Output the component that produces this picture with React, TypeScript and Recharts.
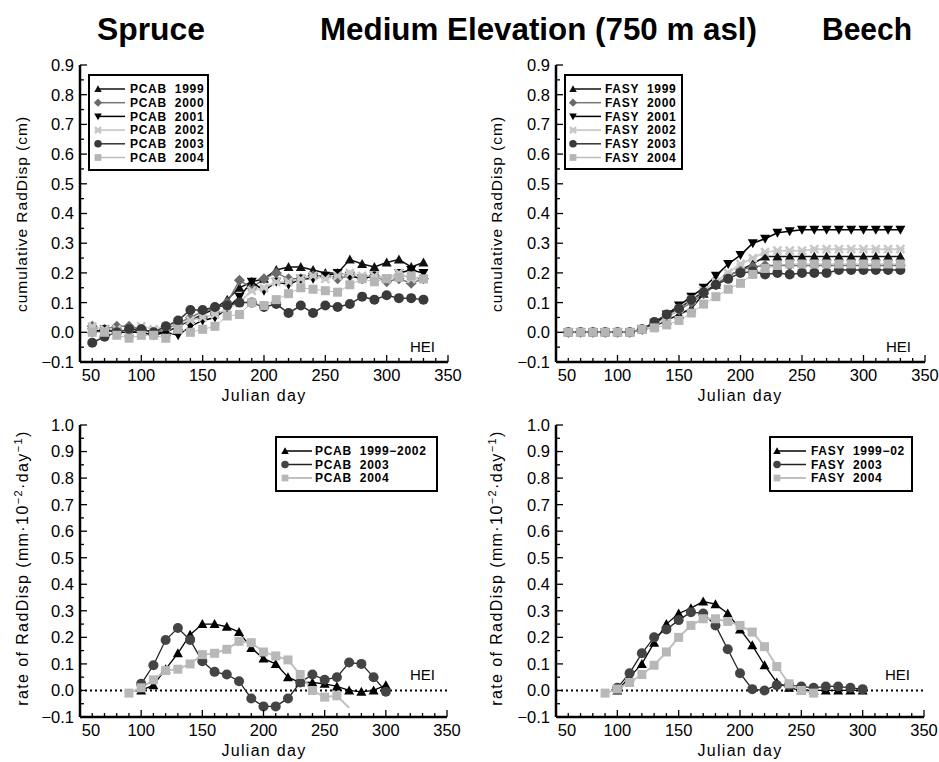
import { LineChart, Line, XAxis, YAxis, ReferenceLine } from 'recharts'

// ---- axes ----
const X_MAJOR = [50, 100, 150, 200, 250, 300, 350]
const X_TICKS = [
  50, 60, 70, 80, 90, 100, 110, 120, 130, 140, 150, 160, 170, 180, 190, 200, 210, 220, 230, 240, 250,
  260, 270, 280, 290, 300, 310, 320, 330, 340, 350,
]
const CUM_Y_MAJOR = [-0.1, 0, 0.1, 0.2, 0.3, 0.4, 0.5, 0.6, 0.7, 0.8, 0.9]
const CUM_Y_TICKS = [
  -0.1, -0.05, 0, 0.05, 0.1, 0.15, 0.2, 0.25, 0.3, 0.35, 0.4, 0.45, 0.5, 0.55, 0.6, 0.65, 0.7, 0.75, 0.8,
  0.85, 0.9,
]
const RATE_Y_MAJOR = [-0.1, 0, 0.1, 0.2, 0.3, 0.4, 0.5, 0.6, 0.7, 0.8, 0.9, 1.0]
const RATE_Y_TICKS = [
  -0.1, -0.05, 0, 0.05, 0.1, 0.15, 0.2, 0.25, 0.3, 0.35, 0.4, 0.45, 0.5, 0.55, 0.6, 0.65, 0.7, 0.75, 0.8,
  0.85, 0.9, 0.95, 1.0,
]

// ---- cumulative radial displacement (cm), 10-day steps ----
const CUM_DAYS = [
  60, 70, 80, 90, 100, 110, 120, 130, 140, 150, 160, 170, 180, 190, 200, 210, 220, 230, 240, 250, 260, 270,
  280, 290, 300, 310, 320, 330,
]
const PCAB_1999 = [0.01, 0.0, 0.01, 0.0, 0.01, 0.0, 0.0, 0.02, 0.04, 0.06, 0.08, 0.11, 0.15, 0.17, 0.18, 0.21, 0.22, 0.22, 0.21, 0.2, 0.2, 0.245, 0.23, 0.22, 0.235, 0.245, 0.22, 0.235]
const PCAB_2000 = [0.02, 0.01, 0.02, 0.02, 0.01, 0.0, 0.01, 0.03, 0.05, 0.07, 0.08, 0.1, 0.175, 0.15, 0.18, 0.2, 0.18, 0.18, 0.19, 0.19, 0.18, 0.19, 0.18, 0.19, 0.17, 0.18, 0.165, 0.18]
const PCAB_2001 = [0.0, 0.01, 0.0, 0.0, 0.0, -0.01, 0.0, -0.01, 0.02, 0.04, 0.05, 0.08, 0.12, 0.17, 0.14, 0.17, 0.16, 0.18, 0.18, 0.19, 0.2, 0.19, 0.18, 0.19, 0.18, 0.2, 0.21, 0.2]
const PCAB_2002 = [0.02, 0.01, 0.01, 0.0, 0.02, 0.01, 0.02, 0.03, 0.04, 0.05, 0.06, 0.08, 0.1, 0.14, 0.15, 0.17, 0.17, 0.18, 0.19, 0.18, 0.19, 0.2, 0.19, 0.19, 0.18, 0.2, 0.18, 0.18]
const PCAB_2003 = [-0.035, -0.015, 0.0, 0.01, 0.01, 0.0, 0.02, 0.04, 0.075, 0.075, 0.085, 0.09, 0.1, 0.1, 0.085, 0.095, 0.065, 0.09, 0.065, 0.09, 0.085, 0.095, 0.12, 0.11, 0.125, 0.115, 0.115, 0.11]
const PCAB_2004 = [0.0, 0.0, -0.01, -0.02, -0.01, -0.01, -0.02, 0.01, 0.0, 0.01, 0.02, 0.055, 0.06, 0.1, 0.09, 0.11, 0.13, 0.15, 0.145, 0.14, 0.135, 0.16, 0.18, 0.17, 0.18, 0.185, 0.19, 0.18]

const FASY_1999 = [0, 0, 0, 0, 0, 0, 0.01, 0.02, 0.04, 0.06, 0.08, 0.13, 0.16, 0.19, 0.21, 0.23, 0.255, 0.255, 0.255, 0.255, 0.255, 0.255, 0.255, 0.255, 0.255, 0.255, 0.255, 0.255]
const FASY_2000 = [0, 0, 0, 0, 0, 0, 0.01, 0.03, 0.05, 0.075, 0.1, 0.13, 0.16, 0.19, 0.21, 0.22, 0.225, 0.225, 0.225, 0.225, 0.225, 0.225, 0.225, 0.225, 0.225, 0.225, 0.225, 0.225]
const FASY_2001 = [0, 0, 0, 0, 0, 0, 0.01, 0.03, 0.06, 0.09, 0.12, 0.15, 0.19, 0.23, 0.26, 0.3, 0.315, 0.335, 0.34, 0.345, 0.345, 0.345, 0.345, 0.345, 0.345, 0.345, 0.345, 0.345]
const FASY_2002 = [0, 0, 0, 0, 0, 0, 0.01, 0.02, 0.05, 0.08, 0.11, 0.14, 0.17, 0.2, 0.23, 0.25, 0.27, 0.275, 0.275, 0.275, 0.28, 0.28, 0.28, 0.28, 0.28, 0.28, 0.28, 0.28]
const FASY_2003 = [0, 0, 0, 0, 0, 0, 0.01, 0.035, 0.06, 0.08, 0.11, 0.135, 0.16, 0.18, 0.2, 0.205, 0.195, 0.2, 0.195, 0.2, 0.2, 0.2, 0.21, 0.21, 0.21, 0.21, 0.21, 0.21]
const FASY_2004 = [0, 0, 0, 0, 0, 0, 0.01, 0.015, 0.025, 0.04, 0.065, 0.095, 0.12, 0.145, 0.165, 0.195, 0.215, 0.225, 0.23, 0.23, 0.23, 0.23, 0.23, 0.23, 0.23, 0.23, 0.23, 0.23]

// ---- rate of radial displacement ----
const RATE_DAYS = [90, 100, 110, 120, 130, 140, 150, 160, 170, 180, 190, 200, 210, 220, 230, 240, 250, 260, 270, 280, 290, 300]
const PCAB_9902_RATE = [null, 0.0, 0.02, 0.08, 0.14, 0.21, 0.25, 0.25, 0.24, 0.22, 0.16, 0.12, 0.1, 0.05, 0.03, 0.03, 0.025, 0.015, 0.0, -0.005, 0.0, 0.02]
const PCAB_2003_RATE = [null, 0.025, 0.095, 0.19, 0.235, 0.19, 0.11, 0.07, 0.06, 0.035, -0.03, -0.06, -0.06, -0.03, 0.03, 0.06, 0.04, 0.05, 0.105, 0.1, 0.05, -0.005]
const PCAB_2004_RATE = [-0.01, 0.01, 0.04, 0.075, 0.08, 0.1, 0.135, 0.14, 0.155, 0.185, 0.18, 0.145, 0.13, 0.115, 0.06, 0.0, -0.025, -0.02, -0.065, null, null, null]
const FASY_9902_RATE = [null, 0.0, 0.05, 0.1, 0.18, 0.25, 0.29, 0.31, 0.335, 0.325, 0.29, 0.23, 0.17, 0.095, 0.03, 0.01, 0.0, 0.0, 0.0, 0.0, 0.0, 0.0]
const FASY_2003_RATE = [null, 0.01, 0.065, 0.14, 0.2, 0.23, 0.265, 0.295, 0.29, 0.245, 0.155, 0.065, 0.005, 0.0, 0.02, 0.02, 0.015, 0.01, 0.015, 0.015, 0.01, 0.005]
const FASY_2004_RATE = [-0.01, 0.005, 0.03, 0.06, 0.095, 0.145, 0.2, 0.245, 0.27, 0.27, 0.26, 0.245, 0.22, 0.165, 0.09, 0.025, 0.0, -0.01, null, null, null, null]

type Shape = 'tri' | 'triDown' | 'diamond' | 'x' | 'circle' | 'square'
interface SeriesStyle {
  shape: Shape
  fill: string
  stroke: string
  width: number
  size: number
  lastMarked?: number
}

const CUM_STYLES: SeriesStyle[] = [
  { shape: 'tri', fill: '#111', stroke: '#111', width: 1.5, size: 10 },
  { shape: 'diamond', fill: '#6a6a6a', stroke: '#777', width: 1.5, size: 11 },
  { shape: 'triDown', fill: '#000', stroke: '#000', width: 1.5, size: 10 },
  { shape: 'x', fill: '#c8c8c8', stroke: '#cfcfcf', width: 2, size: 8 },
  { shape: 'circle', fill: '#3a3a3a', stroke: '#333', width: 1.5, size: 10 },
  { shape: 'square', fill: '#b5b5b5', stroke: '#bbb', width: 1, size: 9 },
]
const RATE_STYLES: SeriesStyle[] = [
  { shape: 'tri', fill: '#000', stroke: '#000', width: 1.3, size: 10 },
  { shape: 'circle', fill: '#444', stroke: '#222', width: 1.3, size: 10 },
  { shape: 'square', fill: '#b8b8b8', stroke: '#c0c0c0', width: 2, size: 9, lastMarked: 260 },
]

const PCAB_CUM_LABELS = ['PCAB  1999', 'PCAB  2000', 'PCAB  2001', 'PCAB  2002', 'PCAB  2003', 'PCAB  2004']
const FASY_CUM_LABELS = ['FASY  1999', 'FASY  2000', 'FASY  2001', 'FASY  2002', 'FASY  2003', 'FASY  2004']
const PCAB_RATE_LABELS = ['PCAB  1999\u22122002', 'PCAB  2003', 'PCAB  2004']
const FASY_RATE_LABELS = ['FASY  1999\u221202', 'FASY  2003', 'FASY  2004']

const toPoints = (days: number[], vals: (number | null)[]) => days.map((x, i) => ({ x, y: vals[i] }))

const fmtY = (v: number) => (v < 0 ? '\u2212' : '') + Math.abs(v).toFixed(1)

function Marker({ cx, cy, shape, fill, size }: { cx: number; cy: number; shape: Shape; fill: string; size: number }) {
  const h = size / 2
  switch (shape) {
    case 'tri':
      return <polygon points={`${cx},${cy - h} ${cx + h},${cy + h * 0.8} ${cx - h},${cy + h * 0.8}`} fill={fill} />
    case 'triDown':
      return <polygon points={`${cx},${cy + h} ${cx + h},${cy - h * 0.8} ${cx - h},${cy - h * 0.8}`} fill={fill} />
    case 'diamond':
      return <polygon points={`${cx},${cy - h} ${cx + h},${cy} ${cx},${cy + h} ${cx - h},${cy}`} fill={fill} />
    case 'circle':
      return <circle cx={cx} cy={cy} r={h} fill={fill} />
    case 'square':
      return <rect x={cx - h} y={cy - h} width={size} height={size} fill={fill} />
    case 'x':
      return (
        <g stroke={fill} strokeWidth={2.5}>
          <line x1={cx - h} y1={cy - h} x2={cx + h} y2={cy + h} />
          <line x1={cx - h} y1={cy + h} x2={cx + h} y2={cy - h} />
          <line x1={cx - h} y1={cy} x2={cx + h} y2={cy} />
        </g>
      )
  }
  return null
}

const TICK_FONT = 16.5

// ticks drawn inward, IDL style
const tickBottom = (props: any) => {
  const { x, y, payload } = props
  const v = payload.value
  const major = X_MAJOR.includes(v)
  return (
    <g>
      <line x1={x} x2={x} y1={y} y2={y - (major ? 7 : 4)} stroke="#000" strokeWidth={1.3} />
      {major && (
        <text x={x + (v === 50 ? 11 : 0)} y={y + 19} textAnchor="middle" fontSize={TICK_FONT} fill="#000">
          {v}
        </text>
      )}
    </g>
  )
}
const tickTop = (props: any) => {
  const { x, y, payload } = props
  const major = X_MAJOR.includes(payload.value)
  return <line x1={x} x2={x} y1={y} y2={y + (major ? 7 : 4)} stroke="#000" strokeWidth={1.3} />
}
const tickLeft = (majors: number[]) => (props: any) => {
  const { x, y, payload } = props
  const major = majors.includes(payload.value)
  return (
    <g>
      <line x1={x} x2={x + (major ? 7 : 4)} y1={y} y2={y} stroke="#000" strokeWidth={1.3} />
      {major && (
        <text x={x - 6} y={y} dy="0.36em" textAnchor="end" fontSize={TICK_FONT} fill="#000">
          {fmtY(payload.value)}
        </text>
      )}
    </g>
  )
}
const tickRight = (majors: number[]) => (props: any) => {
  const { x, y, payload } = props
  const major = majors.includes(payload.value)
  return <line x1={x} x2={x - (major ? 7 : 4)} y1={y} y2={y} stroke="#000" strokeWidth={1.3} />
}

interface Frame {
  left: number
  top: number
  right: number
  bottom: number
}

const FRAME_TL: Frame = { left: 80, top: 65, right: 448, bottom: 362 }
const FRAME_TR: Frame = { left: 556, top: 65, right: 925, bottom: 362 }
const FRAME_BL: Frame = { left: 80, top: 425, right: 447, bottom: 717 }
const FRAME_BR: Frame = { left: 556, top: 425, right: 924, bottom: 717 }

const AXIS_LINE = { stroke: '#000', strokeWidth: 2.5 }

function Panel({
  frame,
  yDomain,
  yMajor,
  yTicks,
  series,
  styles,
  zeroLine,
}: {
  frame: Frame
  yDomain: [number, number]
  yMajor: number[]
  yTicks: number[]
  series: { x: number; y: number | null }[][]
  styles: SeriesStyle[]
  zeroLine?: boolean
}) {
  const padL = 60
  const padR = 14
  const padT = 12
  const padB = 40
  const w = frame.right - frame.left + padL + padR
  const h = frame.bottom - frame.top + padT + padB
  return (
    <div style={{ position: 'absolute', left: frame.left - padL, top: frame.top - padT }}>
      <LineChart
        width={w}
        height={h}
        margin={{ top: padT, right: padR, bottom: 10, left: 0 }}
        style={{ overflow: 'visible' }}
      >
        <XAxis
          xAxisId="b"
          type="number"
          dataKey="x"
          domain={[50, 350]}
          ticks={X_TICKS}
          interval={0}
          tickSize={0}
          tickMargin={0}
          tickLine={false}
          height={padB - 10}
          axisLine={AXIS_LINE}
          tick={tickBottom}
          allowDataOverflow
        />
        <XAxis
          xAxisId="t"
          orientation="top"
          type="number"
          dataKey="x"
          domain={[50, 350]}
          ticks={X_TICKS}
          interval={0}
          tickSize={0}
          tickMargin={0}
          tickLine={false}
          height={0}
          axisLine={AXIS_LINE}
          tick={tickTop}
          allowDataOverflow
        />
        <YAxis
          yAxisId="l"
          type="number"
          domain={yDomain}
          ticks={yTicks}
          interval={0}
          tickSize={0}
          tickMargin={0}
          tickLine={false}
          width={padL}
          axisLine={AXIS_LINE}
          tick={tickLeft(yMajor)}
          allowDataOverflow
        />
        <YAxis
          yAxisId="r"
          orientation="right"
          type="number"
          domain={yDomain}
          ticks={yTicks}
          interval={0}
          tickSize={0}
          tickMargin={0}
          tickLine={false}
          width={0}
          axisLine={AXIS_LINE}
          tick={tickRight(yMajor)}
          allowDataOverflow
        />
        {zeroLine && (
          <ReferenceLine xAxisId="b" yAxisId="l" y={0} stroke="#000" strokeWidth={2} strokeDasharray="2 3" />
        )}
        {series.map((data, si) => {
          const st = styles[si]
          return (
            <Line
              key={si}
              xAxisId="b"
              yAxisId="l"
              data={data}
              dataKey="y"
              type="linear"
              stroke={st.stroke}
              strokeWidth={st.width}
              isAnimationActive={false}
              activeDot={false}
              dot={(p: any) => {
                const px = p.payload?.x
                if (p.cy == null || p.cx == null || (st.lastMarked != null && px > st.lastMarked)) {
                  return <g key={`d-${si}-${p.index}`} />
                }
                return (
                  <g key={`d-${si}-${p.index}`}>
                    <Marker cx={p.cx} cy={p.cy} shape={st.shape} fill={st.fill} size={st.size} />
                  </g>
                )
              }}
            />
          )
        })}
      </LineChart>
    </div>
  )
}

function LegendBox({
  box,
  labels,
  styles,
  rowY,
  rowStep,
  markX,
  lineEnd,
  textX,
}: {
  box: { x: number; y: number; w: number; h: number }
  labels: string[]
  styles: SeriesStyle[]
  rowY: number
  rowStep: number
  markX: number
  lineEnd: number
  textX: number
}) {
  return (
    <g>
      <rect x={box.x} y={box.y} width={box.w} height={box.h} fill="#fff" stroke="#000" strokeWidth={2} />
      {labels.map((lab, i) => {
        const st = styles[i]
        const y = rowY + i * rowStep
        return (
          <g key={lab}>
            <line x1={markX} x2={lineEnd} y1={y} y2={y} stroke={st.stroke} strokeWidth={Math.max(st.width, 1.5)} />
            <Marker cx={markX} cy={y} shape={st.shape} fill={st.fill} size={st.size * 0.75} />
            <text x={textX} y={y} dy="0.36em" fontSize={12} fontWeight="bold" letterSpacing={0.7} style={{ whiteSpace: 'pre' }}>
              {lab}
            </text>
          </g>
        )
      })}
    </g>
  )
}

export default function App() {
  const pcabCum = [PCAB_1999, PCAB_2000, PCAB_2001, PCAB_2002, PCAB_2003, PCAB_2004].map((v) => toPoints(CUM_DAYS, v))
  const fasyCum = [FASY_1999, FASY_2000, FASY_2001, FASY_2002, FASY_2003, FASY_2004].map((v) => toPoints(CUM_DAYS, v))
  const pcabRate = [PCAB_9902_RATE, PCAB_2003_RATE, PCAB_2004_RATE].map((v) => toPoints(RATE_DAYS, v))
  const fasyRate = [FASY_9902_RATE, FASY_2003_RATE, FASY_2004_RATE].map((v) => toPoints(RATE_DAYS, v))

  const yLabRate = (x: number) => (
    <text transform={`translate(${x},568) rotate(-90)`} textAnchor="middle" fontSize={16} letterSpacing={1.4}>
      rate of RadDisp (mm·10
      <tspan dy={-6} fontSize={11}>
        {'\u22122'}
      </tspan>
      <tspan dy={6}>·day</tspan>
      <tspan dy={-6} fontSize={11}>
        {'\u22121'}
      </tspan>
      <tspan dy={6}>)</tspan>
    </text>
  )

  return (
    <div
      style={{
        position: 'absolute',
        left: 0,
        top: 0,
        width: 939,
        height: 762,
        background: '#fff',
        fontFamily: '"Liberation Sans", Arial, Helvetica, sans-serif',
        overflow: 'hidden',
      }}
    >
      <Panel frame={FRAME_TL} yDomain={[-0.1, 0.9]} yMajor={CUM_Y_MAJOR} yTicks={CUM_Y_TICKS} series={pcabCum} styles={CUM_STYLES} />
      <Panel frame={FRAME_TR} yDomain={[-0.1, 0.9]} yMajor={CUM_Y_MAJOR} yTicks={CUM_Y_TICKS} series={fasyCum} styles={CUM_STYLES} />
      <Panel frame={FRAME_BL} yDomain={[-0.1, 1.0]} yMajor={RATE_Y_MAJOR} yTicks={RATE_Y_TICKS} series={pcabRate} styles={RATE_STYLES} zeroLine />
      <Panel frame={FRAME_BR} yDomain={[-0.1, 1.0]} yMajor={RATE_Y_MAJOR} yTicks={RATE_Y_TICKS} series={fasyRate} styles={RATE_STYLES} zeroLine />

      <svg width={939} height={762} style={{ position: 'absolute', left: 0, top: 0, pointerEvents: 'none' }}>
        <g fontWeight="bold" fontSize={31}>
          <text x={97} y={40} textLength={108} lengthAdjust="spacingAndGlyphs">Spruce</text>
          <text x={320} y={40} textLength={437} lengthAdjust="spacingAndGlyphs">Medium Elevation (750 m asl)</text>
          <text x={822} y={40} textLength={90} lengthAdjust="spacingAndGlyphs">Beech</text>
        </g>

        <text transform="translate(27,214) rotate(-90)" textAnchor="middle" fontSize={15.5} letterSpacing={1}>
          cumulative RadDisp (cm)
        </text>
        <text transform="translate(502,214) rotate(-90)" textAnchor="middle" fontSize={15.5} letterSpacing={1}>
          cumulative RadDisp (cm)
        </text>
        {yLabRate(28)}
        {yLabRate(502)}

        <g fontSize={16} letterSpacing={1.3} textAnchor="middle">
          <text x={264} y={401}>Julian day</text>
          <text x={740} y={401}>Julian day</text>
          <text x={264} y={756}>Julian day</text>
          <text x={740} y={756}>Julian day</text>
        </g>

        <g fontSize={15} textAnchor="end">
          <text x={435} y={352}>HEI</text>
          <text x={911} y={352}>HEI</text>
          <text x={435} y={680}>HEI</text>
          <text x={910} y={680}>HEI</text>
        </g>

        <LegendBox box={{ x: 89, y: 75, w: 119, h: 95 }} labels={PCAB_CUM_LABELS} styles={CUM_STYLES} rowY={89} rowStep={13.7} markX={98} lineEnd={125} textX={130} />
        <LegendBox box={{ x: 565, y: 75, w: 117, h: 94 }} labels={FASY_CUM_LABELS} styles={CUM_STYLES} rowY={89} rowStep={13.7} markX={573} lineEnd={601} textX={605} />
        <LegendBox box={{ x: 276, y: 437, w: 161, h: 54 }} labels={PCAB_RATE_LABELS} styles={RATE_STYLES} rowY={451} rowStep={13.5} markX={285} lineEnd={312} textX={315} />
        <LegendBox box={{ x: 770, y: 437, w: 142, h: 54 }} labels={FASY_RATE_LABELS} styles={RATE_STYLES} rowY={451} rowStep={13.5} markX={777} lineEnd={806} textX={811} />
      </svg>
    </div>
  )
}
